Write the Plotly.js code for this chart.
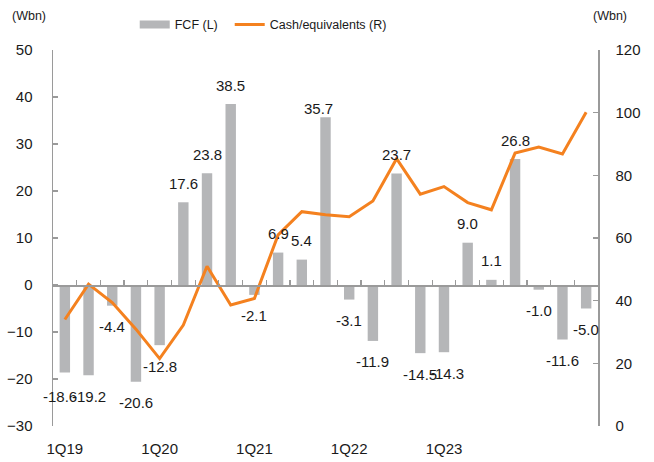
<!DOCTYPE html>
<html>
<head>
<meta charset="utf-8">
<script src="https://cdn.plot.ly/plotly-3.0.1.min.js"></script>
<style>
  html, body { margin: 0; padding: 0; background: #fff; }
  #chart { width: 654px; height: 462px; }
</style>
</head>
<body>
<div id="chart"></div>
<script>
// ---- data ----
const quarters = ['1Q19','2Q19','3Q19','4Q19','1Q20','2Q20','3Q20','4Q20',
                  '1Q21','2Q21','3Q21','4Q21','1Q22','2Q22','3Q22','4Q22',
                  '1Q23','2Q23','3Q23','4Q23','1Q24','2Q24','3Q24'];
const fcf = [-18.6, -19.2, -4.4, -20.6, -12.8, 17.6, 23.8, 38.5,
             -2.1, 6.9, 5.4, 35.7, -3.1, -11.9, 23.7, -14.5,
             -14.3, 9.0, 1.1, 26.8, -1.0, -11.6, -5.0];
const cash = [34.0, 45.3, 39.4, 30.9, 21.5, 32.2, 51.0, 38.6,
              40.7, 61.0, 68.4, 67.4, 66.8, 71.8, 85.3, 74.0,
              76.4, 71.3, 69.0, 87.1, 89.0, 86.8, 100.1];
const seriesNames = ['FCF (L)', 'Cash/equivalents (R)'];
const xTickLabels = ['1Q19','1Q20','1Q21','1Q22','1Q23'];
const leftTicks = [-30, -20, -10, 0, 10, 20, 30, 40, 50];
const rightTicks = [0, 20, 40, 60, 80, 100, 120];

// ---- styles ----
const FONT = 'Liberation Sans, Arial, sans-serif';
const TXT = '#1a1a1a';
const AX = '#9a9a9a';
const BAR = '#b5b6b8';
const ORANGE = '#f4811f';
const LETTER_SIZE = 12.5;
const PAD = '\u00a0\u00a0'; // extra spacing after first legend entry

// label nudges (px) to mimic the reference's placement
const nudge = {0: [-5, -3], 11: [-7, -10], 16: [3, 0]};

const annotations = fcf.map((v, i) => {
  const n = nudge[i] || [0, 0];
  return {
    x: quarters[i], y: v, xref: 'x', yref: 'y',
    text: v.toFixed(1), showarrow: false,
    xanchor: 'center', yanchor: 'middle',
    xshift: n[0], yshift: (v >= 0 ? 19 : -21) + n[1],
    font: {family: FONT, size: 15, color: TXT}
  };
});
annotations.push({
  xref: 'paper', yref: 'paper', x: -0.079, y: 1.09, xanchor: 'left', yanchor: 'middle',
  text: '(Wbn)', showarrow: false, font: {family: FONT, size: LETTER_SIZE, color: TXT}
});
annotations.push({
  xref: 'paper', yref: 'paper', x: 1.056, y: 1.09, xanchor: 'right', yanchor: 'middle',
  text: '(Wbn)', showarrow: false, font: {family: FONT, size: LETTER_SIZE, color: TXT}
});

const traces = [
  {
    type: 'bar', x: quarters, y: fcf, xaxis: 'x', yaxis: 'y',
    marker: {color: BAR}, showlegend: false, hoverinfo: 'skip'
  },
  {
    type: 'scatter', mode: 'lines', x: [null], y: [null], xaxis: 'x', yaxis: 'y',
    name: seriesNames[0] + PAD, line: {color: BAR, width: 8}, showlegend: true
  },
  {
    type: 'scatter', mode: 'lines', x: quarters, y: cash, xaxis: 'x2', yaxis: 'y2',
    name: seriesNames[1], line: {color: ORANGE, width: 3}
  }
];

const layout = {
  width: 654, height: 462,
  margin: {l: 53, r: 56, t: 50, b: 36, pad: 0, autoexpand: false},
  paper_bgcolor: '#fff', plot_bgcolor: '#fff',
  font: {family: FONT, size: 15, color: TXT},
  bargap: 0.56,
  showlegend: true,
  legend: {
    orientation: 'h', xref: 'container', yref: 'container',
    x: 0.206, xanchor: 'left', y: 0.946, yanchor: 'middle',
    font: {family: FONT, size: LETTER_SIZE, color: TXT}, bgcolor: 'rgba(0,0,0,0)',
    itemwidth: 30, tracegroupgap: 0
  },
  xaxis: {
    type: 'category', categoryorder: 'array', categoryarray: quarters,
    range: [-0.5, quarters.length - 0.5],
    tickmode: 'array', tickvals: xTickLabels, ticktext: xTickLabels,
    showline: false, showgrid: false, zeroline: false,
    ticks: 'outside', ticklen: 9, tickcolor: 'rgba(0,0,0,0)',
    tickfont: {family: FONT, size: 15, color: TXT}
  },
  xaxis2: {
    type: 'category', categoryorder: 'array', categoryarray: quarters,
    overlaying: 'x', anchor: 'free', position: 0.375,
    range: [-0.5, quarters.length - 0.5],
    showline: true, linecolor: AX, linewidth: 1.5,
    ticks: 'inside', tickson: 'boundaries', ticklen: 5, tickcolor: AX, tickwidth: 1.2,
    showticklabels: false, showgrid: false, zeroline: false
  },
  yaxis: {
    range: [-30, 50], tickmode: 'array', tickvals: leftTicks,
    showline: true, linecolor: AX, linewidth: 1.5,
    ticks: 'inside', ticklen: 5, tickcolor: AX, tickwidth: 1.2,
    showgrid: false, zeroline: false, ticklabelstandoff: 16,
    tickfont: {family: FONT, size: 15, color: TXT}
  },
  yaxis2: {
    overlaying: 'y', side: 'right', anchor: 'x',
    range: [0, 120], tickmode: 'array', tickvals: rightTicks,
    showline: true, linecolor: AX, linewidth: 1.5,
    ticks: 'inside', ticklen: 5, tickcolor: AX, tickwidth: 1.2,
    showgrid: false, zeroline: false, ticklabelstandoff: 13,
    tickfont: {family: FONT, size: 15, color: TXT}
  },
  annotations: annotations
};

Plotly.newPlot('chart', traces, layout, {displayModeBar: false, staticPlot: true});
</script>
</body>
</html>
